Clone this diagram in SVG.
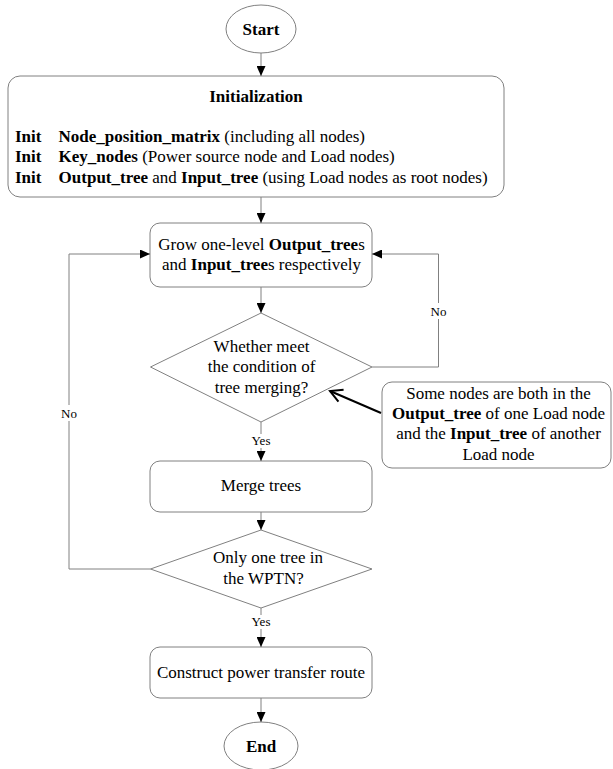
<svg xmlns="http://www.w3.org/2000/svg" width="613" height="769" viewBox="0 0 613 769" font-family="'Liberation Serif', 'Times New Roman', Tinos, serif">
<style>
.shape{fill:#fff;stroke:#808080;stroke-width:1}
.t{font-family:'Liberation Serif','Times New Roman',Tinos,serif;font-size:17px;fill:#000}
.c{text-anchor:middle}
.b{font-weight:bold}
.lbl{font-family:'Liberation Serif','Times New Roman',Tinos,serif;font-size:13px;fill:#000;text-anchor:middle}
.conn{fill:none;stroke:#808080;stroke-width:1}
</style>
<defs>
<marker id="arr" markerWidth="10" markerHeight="9" refX="10" refY="4.5" orient="auto" markerUnits="userSpaceOnUse">
<path d="M0,0 L10,4.5 L0,9 z" fill="#000"/>
</marker>
<marker id="open" markerWidth="16" markerHeight="16" refX="14" refY="8" orient="auto" markerUnits="userSpaceOnUse">
<path d="M2,1.5 L14,8 L2,14.5" fill="none" stroke="#000" stroke-width="2"/>
</marker>
</defs>
<rect width="613" height="769" fill="#fff"/>

<g id="start">
<ellipse class="shape" cx="261" cy="29" rx="35" ry="24"/>
<text class="t c b" x="261" y="35">Start</text>
</g>

<g id="init">
<rect class="shape" x="8" y="76" width="496" height="121" rx="12"/>
<text class="t c b" x="256" y="102">Initialization</text>
<text class="t" y="142"><tspan class="b" x="15">Init</tspan><tspan class="b" x="58.6">Node_position_matrix</tspan> (including all nodes)</text>
<text class="t" y="162"><tspan class="b" x="15">Init</tspan><tspan class="b" x="58.6">Key_nodes</tspan> (Power source node and Load nodes)</text>
<text class="t" y="182.5"><tspan class="b" x="15">Init</tspan><tspan class="b" x="58.6">Output_tree</tspan> and <tspan class="b">Input_tree</tspan> (using Load nodes as root nodes)</text>
</g>

<g id="grow">
<rect class="shape" x="150" y="223" width="222" height="64" rx="10"/>
<text class="t c" x="261.5" y="250">Grow one-level <tspan class="b">Output_tree</tspan>s</text>
<text class="t c" x="261.5" y="270">and <tspan class="b">Input_tree</tspan>s respectively</text>
</g>

<g id="cond1">
<polygon class="shape" points="261,313 372,367 261,422 150.5,367"/>
<text class="t c" x="261.5" y="352">Whether meet</text>
<text class="t c" x="261.5" y="372">the condition of</text>
<text class="t c" x="261.5" y="392.5">tree merging?</text>
</g>

<g id="note">
<rect class="shape" x="382" y="382" width="229" height="86" rx="10"/>
<text class="t c" x="498.5" y="398.5">Some nodes are both in the</text>
<text class="t c" x="498.5" y="418.5"><tspan class="b">Output_tree</tspan> of one Load node</text>
<text class="t c" x="498.5" y="439">and the <tspan class="b">Input_tree</tspan> of another</text>
<text class="t c" x="498.5" y="459.5">Load node</text>
</g>

<g id="merge">
<rect class="shape" x="150" y="461" width="222" height="51" rx="10"/>
<text class="t c" x="261" y="491">Merge trees</text>
</g>

<g id="cond2">
<polygon class="shape" points="261,530 372,569 261,608 150.5,569"/>
<text class="t c" x="268" y="563">Only one tree in</text>
<text class="t c" x="263.5" y="584">the WPTN?</text>
</g>

<g id="construct">
<rect class="shape" x="150" y="647" width="222" height="51" rx="10"/>
<text class="t c" x="261" y="677.5">Construct power transfer route</text>
</g>

<g id="end">
<ellipse class="shape" cx="261" cy="746" rx="37" ry="24"/>
<text class="t c b" x="261" y="752">End</text>
</g>

<g id="connectors">
<line class="conn" x1="261" y1="53" x2="261" y2="76" marker-end="url(#arr)"/>
<line class="conn" x1="261" y1="197" x2="261" y2="223" marker-end="url(#arr)"/>
<line class="conn" x1="261" y1="287" x2="261" y2="313" marker-end="url(#arr)"/>
<polyline class="conn" points="372,367 438.5,367 438.5,254 372,254" marker-end="url(#arr)"/>
<rect x="430" y="303" width="18" height="16" fill="#fff"/>
<text class="lbl" x="438.5" y="316">No</text>
<line class="conn" x1="261" y1="422" x2="261" y2="461" marker-end="url(#arr)"/>
<rect x="250" y="434" width="22" height="14" fill="#fff"/>
<text class="lbl" x="261" y="445">Yes</text>
<line class="conn" x1="261" y1="512" x2="261" y2="530" marker-end="url(#arr)"/>
<polyline class="conn" points="150.5,569 69,569 69,254 150,254" marker-end="url(#arr)"/>
<rect x="60" y="405" width="18" height="16" fill="#fff"/>
<text class="lbl" x="69" y="418">No</text>
<line class="conn" x1="261" y1="608" x2="261" y2="647" marker-end="url(#arr)"/>
<rect x="250" y="615" width="22" height="14" fill="#fff"/>
<text class="lbl" x="261" y="626">Yes</text>
<line class="conn" x1="261" y1="698" x2="261" y2="722" marker-end="url(#arr)"/>
<line x1="381" y1="413" x2="330" y2="391" stroke="#000" stroke-width="2" marker-end="url(#open)"/>
</g>
</svg>
